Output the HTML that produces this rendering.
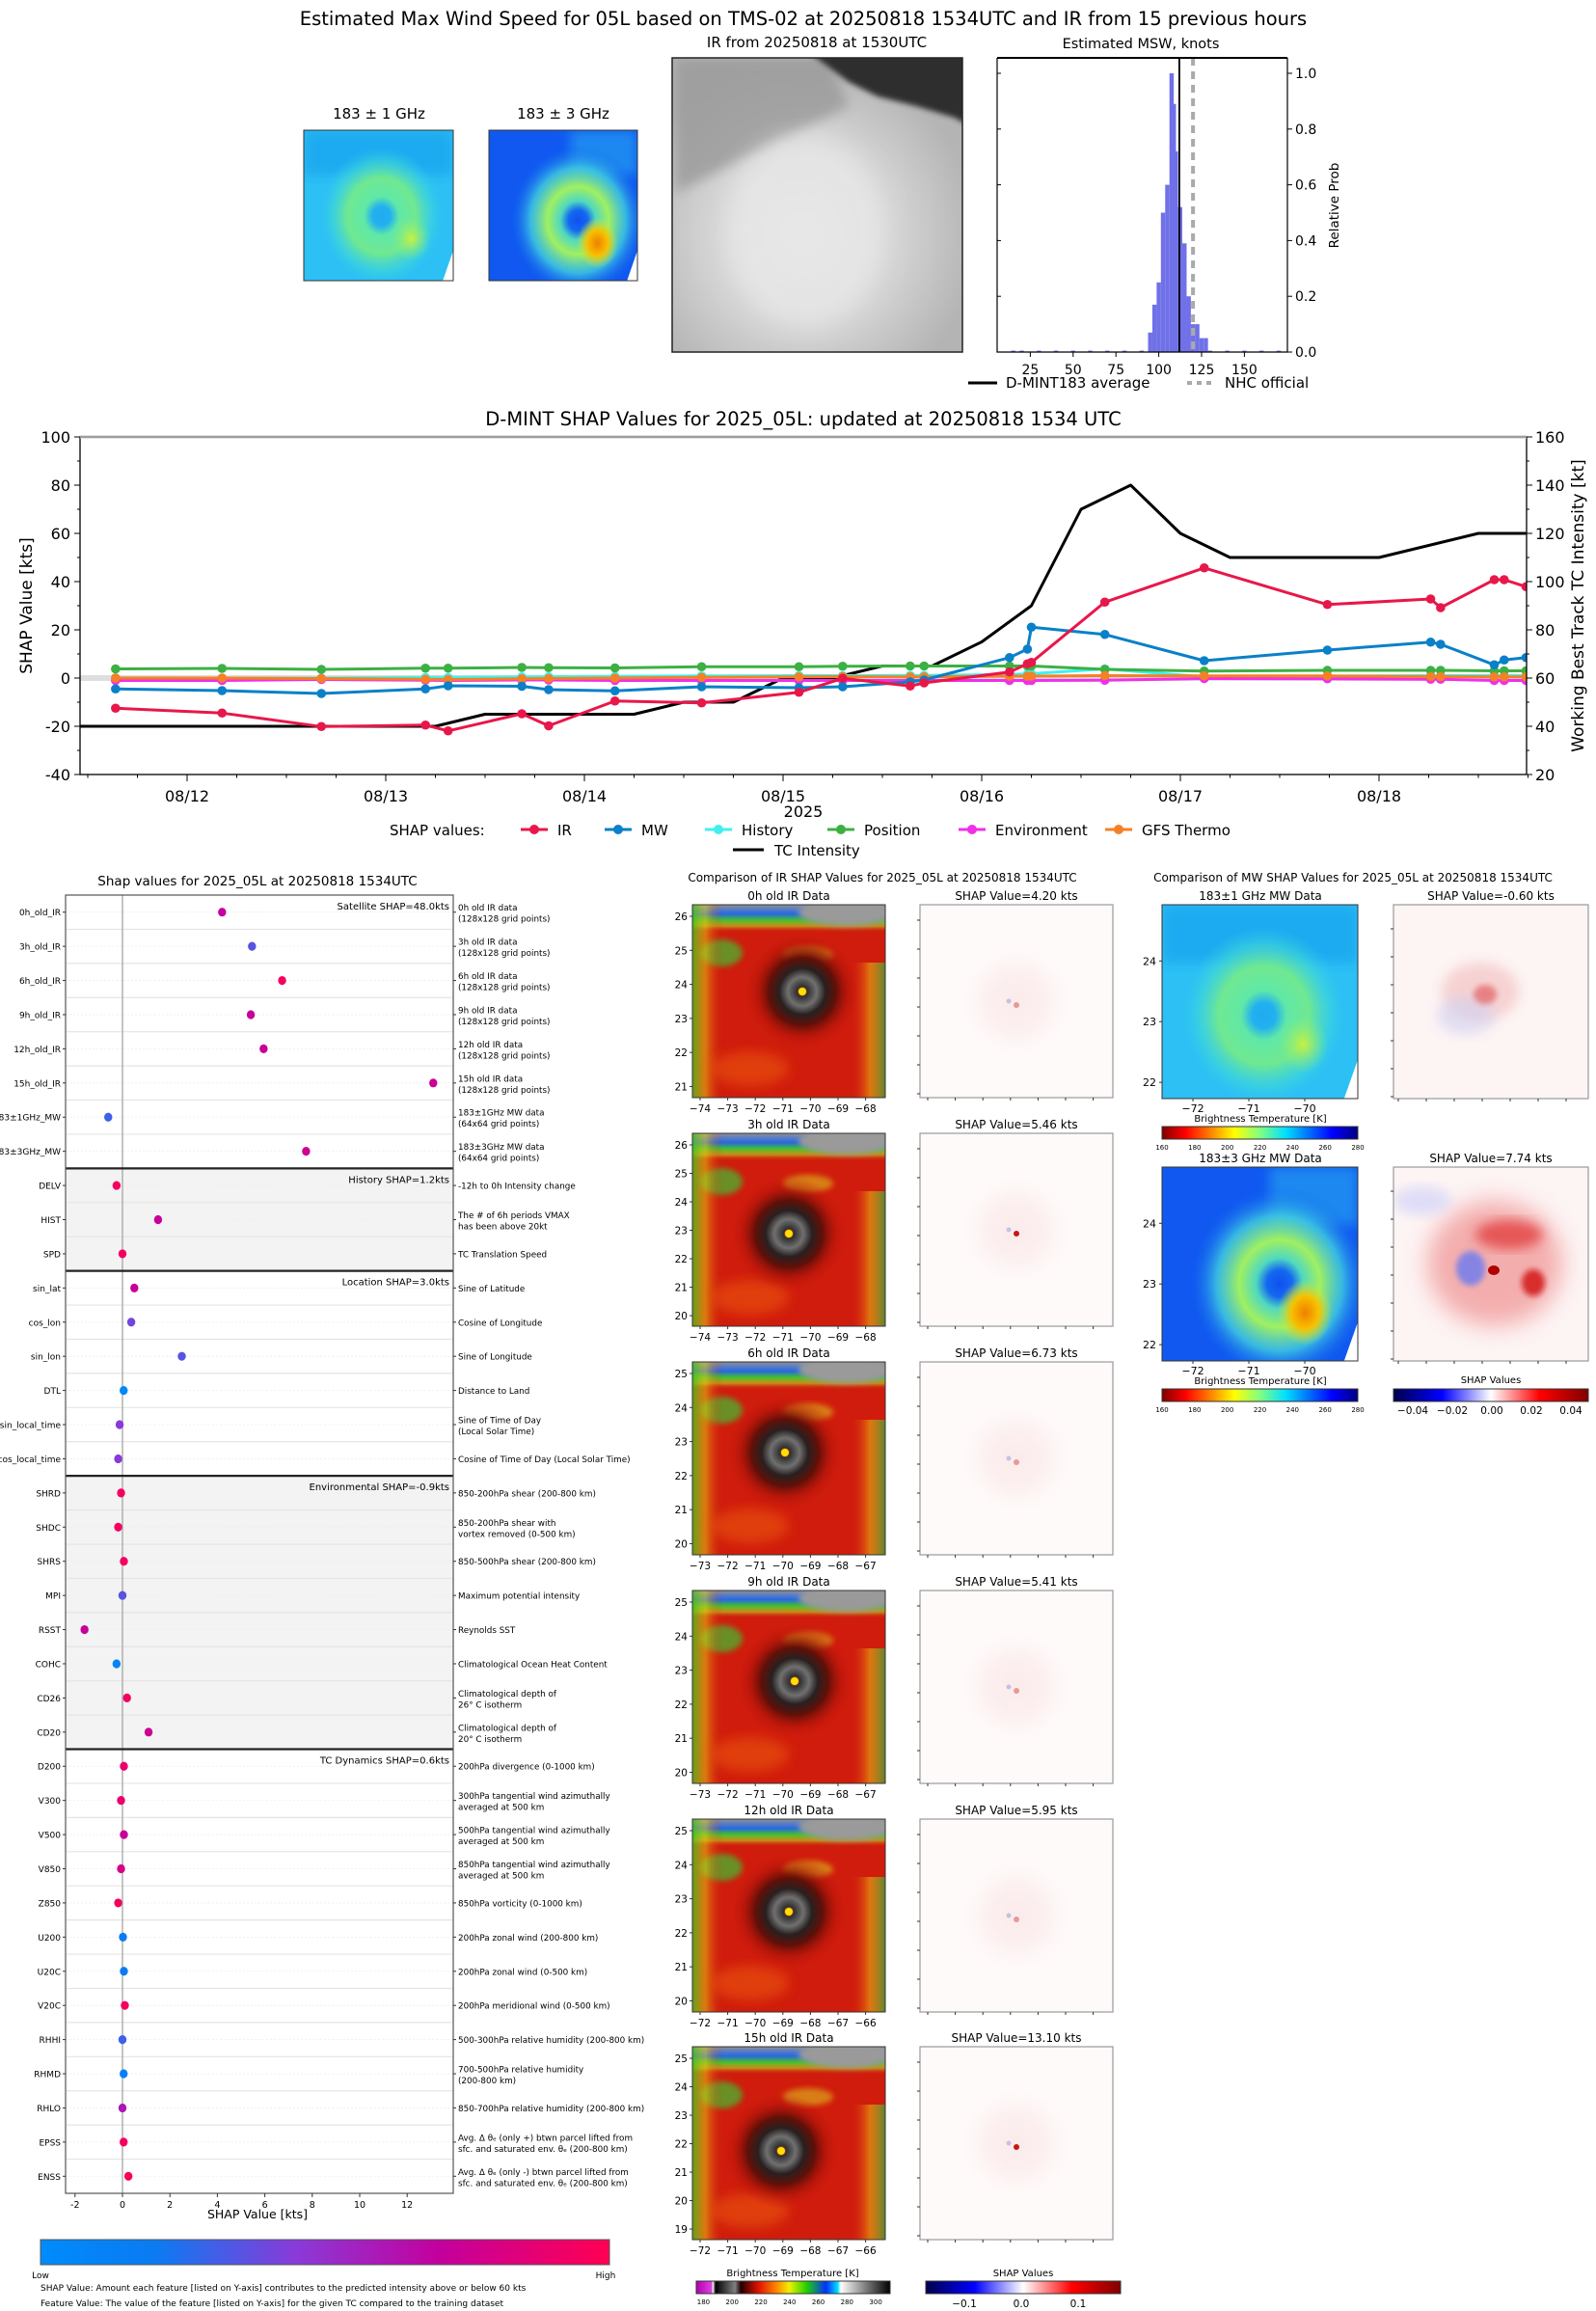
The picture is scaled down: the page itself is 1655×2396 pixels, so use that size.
<!DOCTYPE html>
<html><head><meta charset="utf-8"><title>D-MINT 05L</title>
<style>
html,body{margin:0;padding:0;background:#fff;}
svg{display:block;}
svg text{font-family:"DejaVu Sans","Liberation Sans",sans-serif;fill:#000;}
</style></head>
<body>
<svg id="root" xmlns="http://www.w3.org/2000/svg" width="1655" height="2396" viewBox="0 0 1655 2396">
<defs id="defs">
  <filter id="blur6" x="-20%" y="-20%" width="140%" height="140%"><feGaussianBlur stdDeviation="6"/></filter>
  <filter id="blur3" x="-20%" y="-20%" width="140%" height="140%"><feGaussianBlur stdDeviation="3"/></filter>
  <filter id="blur12" x="-30%" y="-30%" width="160%" height="160%"><feGaussianBlur stdDeviation="12"/></filter>
  <linearGradient id="cbShap" x1="0" x2="1" y1="0" y2="0">
    <stop offset="0" stop-color="#008bfb"/><stop offset="0.2" stop-color="#0a7bf2"/><stop offset="0.45" stop-color="#8a3ad8"/><stop offset="0.7" stop-color="#c3009e"/><stop offset="1" stop-color="#ff0052"/>
  </linearGradient>
  <linearGradient id="cbIR" x1="0" x2="1" y1="0" y2="0">
    <stop offset="0" stop-color="#b000b0"/><stop offset="0.08" stop-color="#e040e0"/><stop offset="0.085" stop-color="#ffffff"/><stop offset="0.1" stop-color="#000000"/><stop offset="0.2" stop-color="#808080"/><stop offset="0.23" stop-color="#200000"/><stop offset="0.32" stop-color="#e01000"/><stop offset="0.42" stop-color="#ff9000"/><stop offset="0.48" stop-color="#f0f000"/><stop offset="0.57" stop-color="#20d000"/><stop offset="0.67" stop-color="#0030ff"/><stop offset="0.73" stop-color="#00e0ff"/><stop offset="0.745" stop-color="#ffffff"/><stop offset="1" stop-color="#000000"/>
  </linearGradient>
  <linearGradient id="cbJetR" x1="0" x2="1" y1="0" y2="0">
    <stop offset="0" stop-color="#800000"/><stop offset="0.12" stop-color="#ff0000"/><stop offset="0.37" stop-color="#ffff00"/><stop offset="0.5" stop-color="#80ff80"/><stop offset="0.63" stop-color="#00e0ff"/><stop offset="0.87" stop-color="#0000ff"/><stop offset="1" stop-color="#000080"/>
  </linearGradient>
  <linearGradient id="cbSeis" x1="0" x2="1" y1="0" y2="0">
    <stop offset="0" stop-color="#00004c"/><stop offset="0.25" stop-color="#0000ff"/><stop offset="0.5" stop-color="#ffffff"/><stop offset="0.75" stop-color="#ff0000"/><stop offset="1" stop-color="#800000"/>
  </linearGradient>
  <linearGradient id="irTop" x1="0" x2="0" y1="0" y2="1">
    <stop offset="0" stop-color="#909090"/><stop offset="0.05" stop-color="#6080c0"/><stop offset="0.12" stop-color="#2868e0"/><stop offset="0.2" stop-color="#40c030"/><stop offset="0.28" stop-color="#c0d020" stop-opacity="0.6"/><stop offset="0.36" stop-color="#d02010" stop-opacity="0"/>
  </linearGradient>
  <linearGradient id="irLeft" x1="0" x2="1" y1="0" y2="0">
    <stop offset="0" stop-color="#40c020" stop-opacity="0.8"/><stop offset="0.07" stop-color="#e8d010" stop-opacity="0.5"/><stop offset="0.16" stop-color="#d02010" stop-opacity="0"/>
  </linearGradient>
  <linearGradient id="irRight" x1="1" x2="0" y1="0" y2="0">
    <stop offset="0" stop-color="#30b040" stop-opacity="0.7"/><stop offset="0.08" stop-color="#f0d010" stop-opacity="0.5"/><stop offset="0.18" stop-color="#d02010" stop-opacity="0"/>
  </linearGradient>
  <radialGradient id="irEye" cx="0.5" cy="0.5" r="0.5">
    <stop offset="0" stop-color="#ffe800"/><stop offset="0.05" stop-color="#ff5000"/><stop offset="0.09" stop-color="#303030"/><stop offset="0.25" stop-color="#707070"/><stop offset="0.4" stop-color="#282020"/><stop offset="0.58" stop-color="#601008"/><stop offset="0.8" stop-color="#a01008" stop-opacity="0.4"/><stop offset="1" stop-color="#c01810" stop-opacity="0"/>
  </radialGradient>
  <radialGradient id="rawIR" cx="0.45" cy="0.6" r="0.6">
    <stop offset="0" stop-color="#e4e4e4"/><stop offset="0.6" stop-color="#d0d0d0"/><stop offset="1" stop-color="#b4b4b4"/>
  </radialGradient>
  <radialGradient id="mw1ring" cx="0.5" cy="0.5" r="0.5">
    <stop offset="0" stop-color="#22aaf0"/><stop offset="0.14" stop-color="#22b0f0"/><stop offset="0.28" stop-color="#60e8a8"/><stop offset="0.55" stop-color="#70e890"/><stop offset="0.8" stop-color="#40d8d8" stop-opacity="0.6"/><stop offset="1" stop-color="#30c8f0" stop-opacity="0"/>
  </radialGradient>
  <radialGradient id="mw3ring" cx="0.5" cy="0.5" r="0.5">
    <stop offset="0" stop-color="#1050f0"/><stop offset="0.14" stop-color="#1468f0"/><stop offset="0.26" stop-color="#50d8c0"/><stop offset="0.45" stop-color="#a0f060"/><stop offset="0.7" stop-color="#40d0e0" stop-opacity="0.8"/><stop offset="1" stop-color="#1060f0" stop-opacity="0"/>
  </radialGradient>
  <radialGradient id="orangeBlob" cx="0.5" cy="0.5" r="0.5">
    <stop offset="0" stop-color="#f08000"/><stop offset="0.5" stop-color="#f8c000"/><stop offset="1" stop-color="#c0f040" stop-opacity="0"/>
  </radialGradient>
  <radialGradient id="ylwBlob" cx="0.5" cy="0.5" r="0.5">
    <stop offset="0" stop-color="#c8f040"/><stop offset="1" stop-color="#80f080" stop-opacity="0"/>
  </radialGradient>
</defs>
</svg>
<script>
// ---------------- DATA ----------------
const shapTimes = [-0.36,0.176,0.676,1.2,1.314,1.685,1.82,2.154,2.59,3.08,3.30,3.64,3.71,4.14,4.23,4.25,4.62,5.12,5.74,6.26,6.31,6.58,6.63,6.74];
const irShap   = [-12.5,-14.5,-20.1,-19.5,-21.9,-14.8,-19.8,-9.5,-10.3,-5.9,-0.1,-3.3,-2,2.5,5.9,6.5,31.5,45.7,30.5,32.8,29.2,40.8,40.8,37.9];
const mwShap   = [-4.5,-5.2,-6.4,-4.5,-3.2,-3.4,-4.8,-5.3,-3.6,-4,-3.6,-1.6,-0.8,8.5,12,21.1,18.1,7.2,11.6,14.9,14,5.5,7.5,8.5];
const histShap = [0.1,0,0,0.3,0.3,0.5,0.6,0.7,0.9,1,1,1.1,1.1,1.5,1.7,1.8,3.8,0.5,0.8,1,1,1,1,1];
const posShap  = [3.8,4,3.6,4.1,4.1,4.4,4.3,4.2,4.7,4.7,4.9,5,5,5,5,5,3.6,2.9,3.2,3.2,3.2,3,3,3];
const envShap  = [-1,-1,-0.6,-0.9,-1,-0.8,-0.8,-1,-1,-1,-1,-1,-1,-1,-1,-1,-0.9,-0.2,-0.3,-0.5,-0.5,-1,-1,-1];
const gfsShap  = [0,0,-0.2,-0.5,-0.6,-0.3,-0.2,0,0.3,0.5,0.6,0.5,0.5,0.8,0.8,0.8,1,0.9,0.9,0.6,0.6,0.5,0.5,0.5];
const bestTimes = [-0.54,1.25,1.5,2.25,2.5,2.75,3.0,3.25,3.5,3.75,4.0,4.25,4.5,4.75,5.0,5.25,6.0,6.5,6.74];
const bestVmax  = [40,40,45,45,50,50,60,60,65,65,75,90,130,140,120,110,110,120,120];
const dateLabels = ["08/12","08/13","08/14","08/15","08/16","08/17","08/18"];
const leftTicks = [-40,-20,0,20,40,60,80,100];
const rightTicks = [20,40,60,80,100,120,140,160];
const histBins  = [15,20,30,40,50,60,70,80,90,95,97.5,100,102.5,105,107.5,108.8,110,112.5,115,117.5,120,122.5,125,127.5,130,140,150,160,170];
const histProb  = [0.005,0.005,0.005,0.005,0.005,0.005,0.005,0.005,0.005,0.07,0.17,0.25,0.5,0.6,1.0,0.89,0.72,0.52,0.39,0.2,0.1,0.1,0.05,0.05,0.005,0.005,0.005,0.005,0.005];
const histXTicks = [25,50,75,100,125,150];
const histYTicks = [0.0,0.2,0.4,0.6,0.8,1.0];
const dmintAvg = 112;
const nhcOfficial = 120;
const featNames = ["0h_old_IR","3h_old_IR","6h_old_IR","9h_old_IR","12h_old_IR","15h_old_IR","183±1GHz_MW","183±3GHz_MW","DELV","HIST","SPD","sin_lat","cos_lon","sin_lon","DTL","sin_local_time","cos_local_time","SHRD","SHDC","SHRS","MPI","RSST","COHC","CD26","CD20","D200","V300","V500","V850","Z850","U200","U20C","V20C","RHHI","RHMD","RHLO","EPSS","ENSS"];
const featShap = [4.2,5.46,6.73,5.41,5.95,13.1,-0.6,7.74,-0.25,1.5,0,0.5,0.37,2.5,0.05,-0.12,-0.18,-0.06,-0.18,0.06,0,-1.6,-0.25,0.19,1.1,0.06,-0.06,0.06,-0.06,-0.18,0.02,0.06,0.1,0,0.05,0,0.05,0.25];
const featValue = [0.7,0.35,0.95,0.72,0.72,0.75,0.3,0.75,0.95,0.72,0.95,0.72,0.4,0.35,0.05,0.45,0.45,0.95,0.95,0.95,0.35,0.72,0.08,0.95,0.75,0.9,0.9,0.72,0.8,0.95,0.2,0.2,0.95,0.3,0.15,0.6,0.95,0.97];
const featDesc = [["0h old IR data","(128x128 grid points)"],["3h old IR data","(128x128 grid points)"],["6h old IR data","(128x128 grid points)"],["9h old IR data","(128x128 grid points)"],["12h old IR data","(128x128 grid points)"],["15h old IR data","(128x128 grid points)"],["183±1GHz MW data","(64x64 grid points)"],["183±3GHz MW data","(64x64 grid points)"],["-12h to 0h Intensity change"],["The # of 6h periods VMAX","has been above 20kt"],["TC Translation Speed"],["Sine of Latitude"],["Cosine of Longitude"],["Sine of Longitude"],["Distance to Land"],["Sine of Time of Day","(Local Solar Time)"],["Cosine of Time of Day (Local Solar Time)"],["850-200hPa shear (200-800 km)"],["850-200hPa shear with","vortex removed (0-500 km)"],["850-500hPa shear (200-800 km)"],["Maximum potential intensity"],["Reynolds SST"],["Climatological Ocean Heat Content"],["Climatological depth of","26° C isotherm"],["Climatological depth of","20° C isotherm"],["200hPa divergence (0-1000 km)"],["300hPa tangential wind azimuthally","averaged at 500 km"],["500hPa tangential wind azimuthally","averaged at 500 km"],["850hPa tangential wind azimuthally","averaged at 500 km"],["850hPa vorticity (0-1000 km)"],["200hPa zonal wind (200-800 km)"],["200hPa zonal wind (0-500 km)"],["200hPa meridional wind (0-500 km)"],["500-300hPa relative humidity (200-800 km)"],["700-500hPa relative humidity","(200-800 km)"],["850-700hPa relative humidity (200-800 km)"],["Avg. Δ θₑ (only +) btwn parcel lifted from","sfc. and saturated env. θₑ (200-800 km)"],["Avg. Δ θₑ (only -) btwn parcel lifted from","sfc. and saturated env. θₑ (200-800 km)"]];
const sectionStart = [0,8,11,17,25];
const sectionLabel = ["Satellite SHAP=48.0kts","History SHAP=1.2kts","Location SHAP=3.0kts","Environmental SHAP=-0.9kts","TC Dynamics SHAP=0.6kts"];
const sectionShaded = [false,true,false,true,false];
const featXTicks = [-2,0,2,4,6,8,10,12];
const irTitles = ["0h old IR Data","3h old IR Data","6h old IR Data","9h old IR Data","12h old IR Data","15h old IR Data"];
const irShapTitles = ["SHAP Value=4.20 kts","SHAP Value=5.46 kts","SHAP Value=6.73 kts","SHAP Value=5.41 kts","SHAP Value=5.95 kts","SHAP Value=13.10 kts"];
const irLonStart = [-74,-74,-73,-73,-72,-72];
const irLatTop = [26,26,25,25,25,25];
const irLatBottom = [21,20,20,20,20,19];
const irEyeX = [0.57,0.5,0.48,0.53,0.5,0.46];
const irEyeY = [0.45,0.52,0.47,0.47,0.48,0.54];
const irCbTicks = [180,200,220,240,260,280,300];
const mwCbTicks = [160,180,200,220,240,260,280];
const shapCbTicksMW = ["−0.04","−0.02","0.00","0.02","0.04"];
const shapCbTicksIR = ["−0.1","0.0","0.1"];

// ---------------- HELPERS ----------------
const NS = "http://www.w3.org/2000/svg";
const svg = document.getElementById("root");
function mk(tag, attrs, parent){
  const e = document.createElementNS(NS, tag);
  for (const k in attrs) e.setAttribute(k, attrs[k]);
  (parent || svg).appendChild(e);
  return e;
}
function txt(s, x, y, size, anchor, parent, extra){
  const a = {x:x, y:y, "font-size":size, "text-anchor":anchor||"start"};
  if (extra) for (const k in extra) a[k] = extra[k];
  const e = mk("text", a, parent);
  e.textContent = s;
  return e;
}
function grp(parent){ return mk("g", {}, parent); }
function lerp(a,b,t){ return a+(b-a)*t; }
function shapColor(v){
  const stops = [[0,[0,139,251]],[0.2,[10,123,242]],[0.45,[138,58,216]],[0.7,[195,0,158]],[1,[255,0,82]]];
  for (let i=1;i<stops.length;i++){
    if (v<=stops[i][0]){
      const t=(v-stops[i-1][0])/(stops[i][0]-stops[i-1][0]);
      const c=stops[i-1][1].map((c0,j)=>Math.round(lerp(c0,stops[i][1][j],t)));
      return "rgb("+c.join(",")+")";
    }
  }
  return "rgb(255,0,82)";
}

// ---------------- TOP TITLE ----------------
const mainTitle = txt("Estimated Max Wind Speed for 05L based on TMS-02 at 20250818 1534UTC and IR from 15 previous hours", 833, 26, 19.5, "middle");



function mwImage(g, x, y, w, h, kind){
  const cid = "clip"+Math.round(x)+"_"+Math.round(y);
  const cp = mk("clipPath",{id:cid}, document.getElementById("defs"));
  mk("rect",{x:x,y:y,width:w,height:h}, cp);
  const inner = mk("g",{"clip-path":"url(#"+cid+")"}, g);
  if (kind===1){
    mk("rect",{x:x,y:y,width:w,height:h,fill:"#2cc0f4"}, inner);
    mk("rect",{x:x,y:y,width:w,height:h*0.3,fill:"#1eaaf0",filter:"url(#blur6)"}, inner);
    mk("ellipse",{cx:x+w*0.52,cy:y+h*0.57,rx:w*0.42,ry:h*0.46,fill:"url(#mw1ring)"}, inner);
    mk("ellipse",{cx:x+w*0.72,cy:y+h*0.72,rx:w*0.13,ry:h*0.15,fill:"url(#ylwBlob)"}, inner);
  } else {
    mk("rect",{x:x,y:y,width:w,height:h,fill:"#1058f0"}, inner);
    mk("rect",{x:x+w*0.55,y:y,width:w*0.45,height:h*0.3,fill:"#1e88f0",filter:"url(#blur6)"}, inner);
    mk("ellipse",{cx:x+w*0.6,cy:y+h*0.6,rx:w*0.46,ry:h*0.5,fill:"url(#mw3ring)"}, inner);
    mk("ellipse",{cx:x+w*0.73,cy:y+h*0.75,rx:w*0.14,ry:h*0.17,fill:"url(#orangeBlob)"}, inner);
  }
  mk("polygon",{points:(x+w)+","+(y+h*0.8)+" "+(x+w)+","+(y+h)+" "+(x+w*0.93)+","+(y+h),fill:"#ffffff"}, inner);
  mk("rect",{x:x,y:y,width:w,height:h,fill:"none",stroke:"#333","stroke-width":1}, g);
}
const mwThumb1 = grp();


txt("183 ± 1 GHz", 393, 123, 15, "middle", mwThumb1);
mwImage(mwThumb1, 315, 135, 155, 156, 1);
const mwThumb3 = grp();


txt("183 ± 3 GHz", 584, 123, 15, "middle", mwThumb3);
mwImage(mwThumb3, 507, 135, 154, 156, 3);

// Raw IR
const rawIR = grp();


txt("IR from 20250818 at 1530UTC", 847, 49, 15, "middle", rawIR);
mk("clipPath",{id:"rawClip"}, document.getElementById("defs"));
mk("rect",{x:697,y:60,width:301,height:305}, document.getElementById("rawClip"));
const rawInner = mk("g",{"clip-path":"url(#rawClip)"}, rawIR);
mk("rect",{x:697,y:60,width:301,height:305,fill:"url(#rawIR)"}, rawInner);
mk("polygon",{points:"700,60 860,60 880,110 820,140 760,170 700,200",fill:"#9a9a9a",filter:"url(#blur6)",opacity:0.8}, rawInner);
mk("polygon",{points:"840,55 1005,55 1005,130 990,122 950,110 910,100 880,85",fill:"#2e2e2e",filter:"url(#blur3)"}, rawInner);
mk("ellipse",{cx:835,cy:240,rx:85,ry:100,fill:"#eaeaea",filter:"url(#blur12)",opacity:0.7}, rawInner);
mk("rect",{x:697,y:60,width:301,height:305,fill:"none",stroke:"#222","stroke-width":1.5}, rawIR);

// Histogram
const hist = grp();


function hx(v){ return 1024 + 1.776*v; }
function hy(p){ return 365 - 289*p; }
txt("Estimated MSW, knots", 1183, 50, 14.5, "middle", hist);
for (let i=0;i<histBins.length;i++){
  const b = mk("rect",{x:hx(histBins[i]-1.25),y:hy(histProb[i]),width:1.776*2.5,height:365-hy(histProb[i]),fill:"#7070e8"}, hist);
  
  
}
const avgLine = mk("line",{x1:hx(dmintAvg),x2:hx(dmintAvg),y1:60,y2:365,stroke:"#000","stroke-width":1.8}, hist);


const nhcLine = mk("line",{x1:hx(nhcOfficial),x2:hx(nhcOfficial),y1:60,y2:365,stroke:"#aaa","stroke-width":4,"stroke-dasharray":"8,6"}, hist);


mk("polyline",{points:"1034,60 1034,365 1335,365 1335,60",fill:"none",stroke:"#000","stroke-width":1.2}, hist);
mk("line",{x1:1034,x2:1335,y1:60,y2:60,stroke:"#000","stroke-width":2}, hist);
for (const t of histXTicks){
  mk("line",{x1:hx(t),x2:hx(t),y1:365,y2:370,stroke:"#000"}, hist);
  txt(String(t), hx(t), 388, 14, "middle", hist);
}
for (const t of histYTicks){
  mk("line",{x1:1335,x2:1340,y1:hy(t),y2:hy(t),stroke:"#000"}, hist);
  mk("line",{x1:1034,x2:1038,y1:hy(t),y2:hy(t),stroke:"#000"}, hist);
  txt(t.toFixed(1), 1343, hy(t)+5, 14, "start", hist);
}
txt("Relative Prob", 1388, 213, 13.5, "middle", hist, {transform:"rotate(-90 1388 213)"});
const histLegend = grp(hist);


mk("line",{x1:1004,x2:1034,y1:397,y2:397,stroke:"#000","stroke-width":3}, histLegend);
txt("D-MINT183 average", 1043, 402, 15, "start", histLegend);
mk("line",{x1:1231,x2:1258,y1:397,y2:397,stroke:"#aaa","stroke-width":4,"stroke-dasharray":"5,5"}, histLegend);
txt("NHC official", 1270, 402, 15, "start", histLegend);

// ---------------- TIME SERIES ----------------
const ts = grp();


function xs(t){ return 194 + 206*t; }
function ys(v){ return 453 + (100-v)*2.5; }
const AX0=83, AX1=1583, AY0=453, AY1=803;
txt("D-MINT SHAP Values for 2025_05L: updated at 20250818 1534 UTC", 833, 441, 19.5, "middle", ts);
mk("clipPath",{id:"tsClip"}, document.getElementById("defs"));
mk("rect",{x:AX0,y:AY0-10,width:AX1-AX0,height:AY1-AY0+20}, document.getElementById("tsClip"));
const tsPlot = mk("g",{"clip-path":"url(#tsClip)"}, ts);
mk("rect",{x:AX0,y:ys(1.2),width:AX1-AX0,height:ys(-1.2)-ys(1.2),fill:"#dedede"}, tsPlot);
function series(vals, color, name, times, withMarkers){
  const pts = times.map((t,i)=>xs(t).toFixed(1)+","+ys(vals[i]).toFixed(1)).join(" ");
  const g = grp(tsPlot);
  
  
  mk("polyline",{points:pts,fill:"none",stroke:color,"stroke-width":3,"stroke-linejoin":"round"}, g);
  if (withMarkers){
    for (let i=0;i<times.length;i++){
      const c = mk("circle",{cx:xs(times[i]),cy:ys(vals[i]),r:4.8,fill:color}, g);
      
      
    }
  }
}
const bestAsShap = bestVmax.map(v=>v-60);
series(bestAsShap, "#000000", "tc-intensity-line", bestTimes, false);
series(histShap, "#40f0f0", "history-series", shapTimes, true);
series(posShap, "#3cb043", "position-series", shapTimes, true);
series(envShap, "#f030e8", "environment-series", shapTimes, true);
series(gfsShap, "#f58025", "gfs-thermo-series", shapTimes, true);
series(mwShap, "#0a80c8", "mw-series", shapTimes, true);
series(irShap, "#e8174a", "ir-series", shapTimes, true);
mk("rect",{x:AX0,y:AY0,width:AX1-AX0,height:AY1-AY0,fill:"none",stroke:"#000","stroke-width":1.3}, ts);
mk("line",{x1:AX0,x2:AX1,y1:AY0,y2:AY0,stroke:"#ccc","stroke-width":4,opacity:0.6}, ts);
for (const v of leftTicks){
  mk("line",{x1:AX0-6,x2:AX0,y1:ys(v),y2:ys(v),stroke:"#000"}, ts);
  txt(String(v), AX0-10, ys(v)+6, 16, "end", ts);
}
for (let v=-30; v<100; v+=20){
  mk("line",{x1:AX0-3,x2:AX0,y1:ys(v),y2:ys(v),stroke:"#000"}, ts);
  mk("line",{x1:AX1,x2:AX1+3,y1:ys(v),y2:ys(v),stroke:"#000"}, ts);
}
for (const v of rightTicks){
  mk("line",{x1:AX1,x2:AX1+6,y1:ys(v-60),y2:ys(v-60),stroke:"#000"}, ts);
  txt(String(v), AX1+9, ys(v-60)+6, 16, "start", ts);
}
for (let i=0;i<dateLabels.length;i++){
  mk("line",{x1:xs(i),x2:xs(i),y1:AY1,y2:AY1+7,stroke:"#000"}, ts);
  txt(dateLabels[i], xs(i), AY1+28, 16, "middle", ts);
}
for (let t=-0.5; t<6.8; t+=0.25){
  if (Math.abs(t-Math.round(t))<0.01) continue;
  mk("line",{x1:xs(t),x2:xs(t),y1:AY1,y2:AY1+3.5,stroke:"#000"}, ts);
}
txt("2025", 833, 847, 16, "middle", ts);
txt("SHAP Value [kts]", 33, 628, 17, "middle", ts, {transform:"rotate(-90 33 628)"});
txt("Working Best Track TC Intensity [kt]", 1642, 628, 17, "middle", ts, {transform:"rotate(-90 1642 628)"});
const tsLeg = grp(ts);


txt("SHAP values:", 404, 866, 15, "start", tsLeg);
const legItems = [["IR","#e8174a",540,578],["MW","#0a80c8",627,665],["History","#40f0f0",731,769],["Position","#3cb043",858,896],["Environment","#f030e8",994,1032],["GFS Thermo","#f58025",1146,1184]];
for (const it of legItems){
  const g = grp(tsLeg);
  
  
  mk("line",{x1:it[2],x2:it[2]+28,y1:860,y2:860,stroke:it[1],"stroke-width":3}, g);
  mk("circle",{cx:it[2]+14,cy:860,r:5,fill:it[1]}, g);
  txt(it[0], it[3], 866, 15, "start", g);
}
const legTC = grp(tsLeg);


mk("line",{x1:760,x2:792,y1:881,y2:881,stroke:"#000","stroke-width":3}, legTC);
txt("TC Intensity", 803, 887, 15, "start", legTC);

// ---------------- FEATURE SUMMARY ----------------
const fs = grp();


const FX0=68, FX1=470, FY0=928, FY1=2274;
const rowH = (FY1-FY0)/featNames.length;
function fx(v){ return 127 + 24.6*v; }
function fy(i){ return FY0 + rowH*(i+0.5); }
txt("Shap values for 2025_05L at 20250818 1534UTC", 267, 918, 13.5, "middle", fs);
for (let s=0;s<sectionStart.length;s++){
  const a = sectionStart[s], b = (s+1<sectionStart.length)? sectionStart[s+1] : featNames.length;
  if (sectionShaded[s]) mk("rect",{x:FX0,y:FY0+rowH*a,width:FX1-FX0,height:rowH*(b-a),fill:"#f3f3f3"}, fs);
}
for (let i=1;i<featNames.length;i++){
  mk("line",{x1:FX0,x2:FX1,y1:FY0+rowH*i,y2:FY0+rowH*i,stroke:"#e4e4e4","stroke-width":1.2}, fs);
}
for (let i=0;i<featNames.length;i++){
  mk("line",{x1:FX0,x2:FX1,y1:fy(i),y2:fy(i),stroke:"#eeeeee","stroke-width":0.8,"stroke-dasharray":"2,2"}, fs);
}
mk("line",{x1:fx(0),x2:fx(0),y1:FY0,y2:FY1,stroke:"#b0b0b0","stroke-width":1.5}, fs);
for (let s=1;s<sectionStart.length;s++){
  mk("line",{x1:FX0,x2:FX1,y1:FY0+rowH*sectionStart[s],y2:FY0+rowH*sectionStart[s],stroke:"#222","stroke-width":2.2}, fs);
}
for (let s=0;s<sectionStart.length;s++){
  txt(sectionLabel[s], FX1-4, FY0+rowH*sectionStart[s]+15, 10, "end", fs);
}
mk("rect",{x:FX0,y:FY0,width:FX1-FX0,height:FY1-FY0,fill:"none",stroke:"#555","stroke-width":1.2}, fs);
for (let i=0;i<featNames.length;i++){
  const y = fy(i);
  mk("line",{x1:FX0-3,x2:FX0,y1:y,y2:y,stroke:"#333"}, fs);
  txt(featNames[i], FX0-5, y+3.5, 9, "end", fs);
  mk("line",{x1:FX1,x2:FX1+3,y1:y,y2:y,stroke:"#333"}, fs);
  const d = featDesc[i];
  if (d.length===1) txt(d[0], FX1+5, y+3.5, 8.8, "start", fs);
  else { txt(d[0], FX1+5, y-1.5, 8.8, "start", fs); txt(d[1], FX1+5, y+10, 8.8, "start", fs); }
  const dot = mk("ellipse",{cx:fx(featShap[i]),cy:y,rx:4.2,ry:4.6,fill:shapColor(featValue[i])}, fs);
  
  
}
for (const t of featXTicks){
  mk("line",{x1:fx(t),x2:fx(t),y1:FY1,y2:FY1+4,stroke:"#333"}, fs);
  txt(String(t), fx(t), FY1+15, 9.5, "middle", fs);
}
txt("SHAP Value [kts]", 267, 2300, 12.5, "middle", fs);
const featCb = grp(fs);


mk("rect",{x:42,y:2322,width:590,height:26,fill:"url(#cbShap)",stroke:"#555","stroke-width":1}, featCb);
txt("Low", 42, 2362, 9, "middle", featCb);
txt("High", 628, 2362, 9, "middle", featCb);
txt("SHAP Value: Amount each feature [listed on Y-axis] contributes to the predicted intensity above or below 60 kts", 42, 2375, 9, "start", fs);
txt("Feature Value: The value of the feature [listed on Y-axis] for the given TC compared to the training dataset", 42, 2391, 9, "start", fs);

// ---------------- IR COMPARISON ----------------
const irc = grp();


txt("Comparison of IR SHAP Values for 2025_05L at 20250818 1534UTC", 915, 914, 12, "middle", irc);
const IRX=718, IRW=200, SHX=954, SHW=200, IRH=200;
const rowTop = [938,1175,1412,1649,1886,2122];
for (let r=0;r<6;r++){
  const y = rowTop[r];
  const g = grp(irc);
  
  
  txt(irTitles[r], IRX+IRW/2, y-5, 12, "middle", g);
  mk("clipPath",{id:"irc"+r}, document.getElementById("defs"));
  mk("rect",{x:IRX,y:y,width:IRW,height:IRH}, document.getElementById("irc"+r));
  const inner = mk("g",{"clip-path":"url(#irc"+r+")"}, g);
  mk("rect",{x:IRX,y:y,width:IRW,height:IRH,fill:"#d01c0c"}, inner);
  mk("rect",{x:IRX,y:y,width:IRW,height:IRH*0.4,fill:"url(#irTop)"}, inner);
  mk("ellipse",{cx:IRX+IRW*0.8,cy:y+8,rx:IRW*0.25,ry:14,fill:"#9a9a9a",filter:"url(#blur3)"}, inner);
  mk("ellipse",{cx:IRX+IRW*0.15,cy:y+IRH*0.25,rx:22,ry:14,fill:"#40c030",filter:"url(#blur3)",opacity:0.7}, inner);
  mk("ellipse",{cx:IRX+IRW*0.6,cy:y+IRH*0.26,rx:26,ry:9,fill:"#e0e020",filter:"url(#blur3)",opacity:0.5}, inner);
  mk("rect",{x:IRX,y:y,width:IRW,height:IRH,fill:"url(#irLeft)"}, inner);
  mk("rect",{x:IRX,y:y+IRH*0.3,width:IRW,height:IRH*0.7,fill:"url(#irRight)"}, inner);
  mk("ellipse",{cx:IRX+IRW*0.3,cy:y+IRH*0.85,rx:40,ry:18,fill:"#f06010",filter:"url(#blur6)",opacity:0.5}, inner);
  const ex = IRX+IRW*irEyeX[r], ey = y+IRH*irEyeY[r];
  mk("circle",{cx:ex,cy:ey,r:IRW*0.3,fill:"url(#irEye)"}, inner);
  mk("circle",{cx:ex,cy:ey,r:IRW*0.02,fill:"#ffe000"}, inner);
  mk("rect",{x:IRX,y:y,width:IRW,height:IRH,fill:"none",stroke:"#333","stroke-width":1}, g);
  for (let k=0;k<7;k++){
    const tx = IRX + IRW*(0.04 + 0.143*k);
    mk("line",{x1:tx,x2:tx,y1:y+IRH,y2:y+IRH+3,stroke:"#333"}, g);
    txt("−"+Math.abs(irLonStart[r]+k), tx, y+IRH+15, 10.5, "middle", g);
  }
  const nLat = irLatTop[r]-irLatBottom[r];
  for (let k=0;k<=nLat;k++){
    const ty = y + IRH*(0.06 + (0.9/ Math.max(nLat,1))*k*(nLat/ (nLat+0.1)));
    mk("line",{x1:IRX-3,x2:IRX,y1:ty,y2:ty,stroke:"#333"}, g);
    txt(String(irLatTop[r]-k), IRX-5, ty+4, 10.5, "end", g);
  }
  const sg = grp(irc);
  
  
  txt(irShapTitles[r], SHX+SHW/2, y-5, 12, "middle", sg);
  mk("rect",{x:SHX,y:y,width:SHW,height:IRH,fill:"#fffafa",stroke:"#999","stroke-width":1.2}, sg);
  mk("circle",{cx:SHX+SHW*0.5,cy:y+IRH*0.5,r:40,fill:"#f8e0e0",opacity:0.5,filter:"url(#blur12)"}, sg);
  mk("circle",{cx:SHX+SHW*0.5,cy:y+IRH*0.52,r:3,fill:"#c00000",opacity:r===1||r===5?0.9:0.35}, sg);
  mk("circle",{cx:SHX+SHW*0.46,cy:y+IRH*0.5,r:2.5,fill:"#6070e0",opacity:0.35}, sg);
  for (let k=0;k<7;k++){
    const tx = SHX + SHW*(0.04 + 0.143*k);
    mk("line",{x1:tx,x2:tx,y1:y+IRH,y2:y+IRH+3,stroke:"#333"}, sg);
    const ty = y + IRH*(0.08+0.15*k);
    mk("line",{x1:SHX-3,x2:SHX,y1:ty,y2:ty,stroke:"#333"}, sg);
  }
}
const irCb = grp(irc);


txt("Brightness Temperature [K]", 822, 2360, 10, "middle", irCb);
mk("rect",{x:722,y:2365,width:201,height:13,fill:"url(#cbIR)",stroke:"#333"}, irCb);
for (let k=0;k<irCbTicks.length;k++){
  const tx = 722 + 201*((irCbTicks[k]-175)/135);
  txt(String(irCbTicks[k]), tx, 2389, 7, "middle", irCb);
}
const irShapCb = grp(irc);


txt("SHAP Values", 1061, 2360, 10, "middle", irShapCb);
mk("rect",{x:960,y:2365,width:202,height:13,fill:"url(#cbSeis)",stroke:"#333"}, irShapCb);
for (let k=0;k<3;k++){
  txt(shapCbTicksIR[k], 1000 + 59*k, 2392, 10.5, "middle", irShapCb);
}

// ---------------- MW COMPARISON ----------------
const mwc = grp();


txt("Comparison of MW SHAP Values for 2025_05L at 20250818 1534UTC", 1403, 914, 12, "middle", mwc);
const mwRows = [[938,"183±1 GHz MW Data","SHAP Value=-0.60 kts",1],[1210,"183±3 GHz MW Data","SHAP Value=7.74 kts",3]];
for (let r=0;r<2;r++){
  const y = mwRows[r][0], H=201;
  const g = grp(mwc);
  
  
  txt(mwRows[r][1], 1307, y-5, 12, "middle", g);
  mwImage(g, 1205, y, 203, H, mwRows[r][3]);
  const lats = [24,23,22];
  for (let k=0;k<3;k++){
    const ty = y + H*(0.29+0.313*k);
    mk("line",{x1:1202,x2:1205,y1:ty,y2:ty,stroke:"#333"}, g);
    txt(String(lats[k]), 1199, ty+4, 11, "end", g);
  }
  const lons = [-72,-71,-70];
  for (let k=0;k<3;k++){
    const tx = 1237 + 58*k;
    mk("line",{x1:tx,x2:tx,y1:y+H,y2:y+H+3,stroke:"#333"}, g);
    txt("−"+Math.abs(lons[k]), tx, y+H+14, 11, "middle", g);
  }
  txt("Brightness Temperature [K]", 1307, y+H+24, 10, "middle", g);
  mk("rect",{x:1205,y:y+H+29,width:203,height:13,fill:"url(#cbJetR)",stroke:"#333"}, g);
  for (let k=0;k<mwCbTicks.length;k++){
    txt(String(mwCbTicks[k]), 1205 + 203*k/6, y+H+53, 7, "middle", g);
  }
  const sg = grp(mwc);
  
  
  txt(mwRows[r][2], 1546, y-5, 12, "middle", sg);
  mk("clipPath",{id:"mws"+r}, document.getElementById("defs"));
  mk("rect",{x:1445,y:y,width:202,height:H}, document.getElementById("mws"+r));
  const si = mk("g",{"clip-path":"url(#mws"+r+")"}, sg);
  mk("rect",{x:1445,y:y,width:202,height:H,fill:"#fdf4f4"}, si);
  if (r===0){
    mk("ellipse",{cx:1535,cy:y+90,rx:40,ry:30,fill:"#f0b0b0",opacity:0.5,filter:"url(#blur6)"}, si);
    mk("ellipse",{cx:1520,cy:y+115,rx:30,ry:20,fill:"#d0d0f0",opacity:0.6,filter:"url(#blur6)"}, si);
    mk("ellipse",{cx:1540,cy:y+93,rx:12,ry:10,fill:"#e05050",opacity:0.6,filter:"url(#blur3)"}, si);
  } else {
    mk("ellipse",{cx:1550,cy:y+100,rx:70,ry:65,fill:"#f09090",opacity:0.7,filter:"url(#blur12)"}, si);
    mk("ellipse",{cx:1565,cy:y+70,rx:35,ry:15,fill:"#e03030",opacity:0.7,filter:"url(#blur6)"}, si);
    mk("ellipse",{cx:1525,cy:y+105,rx:15,ry:18,fill:"#6a7af0",opacity:0.8,filter:"url(#blur3)"}, si);
    mk("ellipse",{cx:1590,cy:y+120,rx:12,ry:14,fill:"#d01010",opacity:0.8,filter:"url(#blur3)"}, si);
    mk("ellipse",{cx:1549,cy:y+107,rx:6,ry:5,fill:"#b00000"}, si);
    mk("ellipse",{cx:1475,cy:y+35,rx:30,ry:15,fill:"#d8d8f8",opacity:0.8,filter:"url(#blur6)"}, si);
  }
  mk("rect",{x:1445,y:y,width:202,height:H,fill:"none",stroke:"#999","stroke-width":1.2}, sg);
  for (let k=0;k<7;k++){
    const tx = 1450 + 29*k;
    mk("line",{x1:tx,x2:tx,y1:y+H,y2:y+H+3,stroke:"#333"}, sg);
    const ty = y + 25 + 29*k;
    mk("line",{x1:1442,x2:1445,y1:ty,y2:ty,stroke:"#333"}, sg);
  }
}
const mwShapCb = grp(mwc);


txt("SHAP Values", 1546, 1434, 10, "middle", mwShapCb);
mk("rect",{x:1445,y:1440,width:202,height:13,fill:"url(#cbSeis)",stroke:"#333"}, mwShapCb);
for (let k=0;k<5;k++){
  txt(shapCbTicksMW[k], 1465 + 41*k, 1466, 10.5, "middle", mwShapCb);
}
</script>
</body></html>
